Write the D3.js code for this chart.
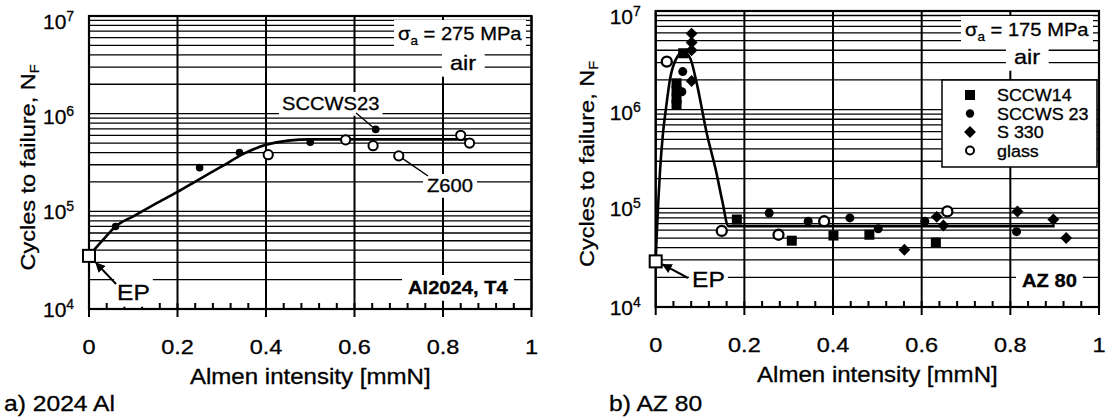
<!DOCTYPE html>
<html>
<head>
<meta charset="utf-8">
<script src="https://cdn.jsdelivr.net/npm/d3@7"></script>
<style>
  body { margin: 0; background: #fff; }
  svg text { font-family: "Liberation Sans", Arial, sans-serif; fill: #000; stroke: #000; stroke-width: 0.3px; }
</style>
</head>
<body>
<svg id="chart" width="1111" height="420"></svg>
<script>
// ---- data ----
const xTicks = [0, 0.2, 0.4, 0.6, 0.8, 1];
const xTickLabels = ["0", "0.2", "0.4", "0.6", "0.8", "1"];
const yTicks = [1e4, 1e5, 1e6, 1e7];
const yTickExp = ["4", "5", "6", "7"];

// a) 2024 Al
const aCurveX = [0, 0.03, 0.06, 0.1, 0.15, 0.2, 0.25, 0.3, 0.35, 0.4, 0.45, 0.5, 0.86];
const aCurveY = [3.5e4, 5.0e4, 7.0e4, 8.9e4, 1.19e5, 1.58e5, 2.14e5, 2.88e5, 3.9e5, 4.8e5, 5.3e5, 5.45e5, 5.45e5];
const aFilledX = [0.06, 0.25, 0.34, 0.50, 0.648];
const aFilledY = [7e4, 2.8e5, 4.0e5, 5.1e5, 6.9e5];
const aOpenX = [0.405, 0.58, 0.642, 0.70, 0.84, 0.86];
const aOpenY = [3.8e5, 5.4e5, 4.7e5, 3.7e5, 6.0e5, 5.0e5];
const aEP = [0, 3.5e4];

// b) AZ 80
const bCurveX = [0, 0.002, 0.006, 0.01, 0.016, 0.024, 0.032, 0.045, 0.062, 0.078, 0.092, 0.115, 0.136, 0.15, 0.164, 0.9];
const bCurveY = [2.9e4, 5e4, 1.2e5, 2.5e5, 5.5e5, 1.1e6, 2.0e6, 3.2e6, 3.85e6, 3.3e6, 1.9e6, 5.8e5, 2.4e5, 1.2e5, 6.6e4, 6.6e4];
const bSquareX = [0.047, 0.047, 0.047, 0.047, 0.062, 0.183, 0.307, 0.401, 0.482, 0.632];
const bSquareY = [1.85e6, 1.55e6, 1.3e6, 1.12e6, 3.73e6, 7.7e4, 4.7e4, 5.3e4, 5.4e4, 4.5e4];
const bCircleX = [0.061, 0.059, 0.256, 0.344, 0.438, 0.502, 0.607, 0.814];
const bCircleY = [2.43e6, 1.52e6, 8.96e4, 7.4e4, 8.0e4, 6.2e4, 7.4e4, 5.8e4];
const bDiamondX = [0.081, 0.081, 0.081, 0.081, 0.561, 0.634, 0.649, 0.816, 0.897, 0.926];
const bDiamondY = [5.9e6, 4.8e6, 4.0e6, 1.95e6, 3.8e4, 8.2e4, 6.7e4, 9.3e4, 7.7e4, 5.0e4];
const bGlassX = [0.025, 0.149, 0.277, 0.380, 0.658];
const bGlassY = [3.07e6, 5.9e4, 5.4e4, 7.4e4, 9.3e4];
const bEP = [0, 2.9e4];

const legendNames = ["SCCW14", "SCCWS 23", "S 330", "glass"];

// the scanned original has wide lettering
const SX = 1.12;
const yLabelDrop = [8, 8, 10, 13];

const svg = d3.select("#chart");
const zip = (xs, ys) => xs.map((v, i) => [v, ys[i]]);

// text (stretched) with optional white box behind it, for labels on the grid
function label(g, x, y, build, pad) {
  const h = g.append("g").attr("transform", `translate(${x},${y}) scale(${SX},1)`);
  const t = build(h.append("text"));
  if (pad) {
    const b = t.node().getBBox();
    h.insert("rect", "text")
      .attr("x", b.x - pad[0] / SX).attr("y", b.y - pad[1])
      .attr("width", b.width + 2 * pad[0] / SX).attr("height", b.height + pad[1] * 2)
      .attr("fill", "#fff");
  }
  return t;
}

function sigma(t, val) {
  t.attr("font-size", 18);
  t.append("tspan").text("σ");
  t.append("tspan").text("a").attr("font-size", 12).attr("dy", 5);
  t.append("tspan").text(" = " + val + " MPa").attr("dy", -5);
  return t;
}

function drawPanel(p) {
  const g = svg.append("g");
  const x = d3.scaleLinear().domain([0, 1]).range([p.left, p.right]);
  const y = d3.scaleLog().domain([1e4, 1e7]).range([p.bottom, p.top]);

  // log grid lines
  const grid = [];
  for (let e = 4; e < 7; e++) for (let k = 1; k <= 9; k++) {
    const v = k * Math.pow(10, e);
    if (v > 1e4) grid.push(v);
  }
  g.append("g").selectAll("line").data(grid).join("line")
    .attr("x1", p.left).attr("x2", p.right)
    .attr("y1", d => y(d)).attr("y2", d => y(d))
    .attr("stroke", "#000").attr("stroke-width", 1.3);

  // vertical grid + major ticks
  g.append("g").selectAll("line").data(xTicks).join("line")
    .attr("x1", d => x(d)).attr("x2", d => x(d))
    .attr("y1", p.top).attr("y2", p.bottom + 8)
    .attr("stroke", "#000").attr("stroke-width", 2);

  // minor ticks
  g.append("g").selectAll("line").data(d3.range(0.04, 1, 0.04)).join("line")
    .attr("x1", d => x(d)).attr("x2", d => x(d))
    .attr("y1", p.bottom).attr("y2", p.bottom - 6)
    .attr("stroke", "#000").attr("stroke-width", 2);

  // labels that blank out the grid
  p.labels(g.append("g"), x, y);

  // frame
  g.append("rect")
    .attr("x", p.left).attr("y", p.top)
    .attr("width", p.right - p.left).attr("height", p.bottom - p.top)
    .attr("fill", "none").attr("stroke", "#000").attr("stroke-width", 2.2);

  // tick labels
  g.append("g").selectAll("text").data(xTicks).join("text")
    .attr("transform", d => `translate(${x(d)},${p.bottom + 45}) scale(${SX},1)`)
    .attr("text-anchor", "middle").attr("font-size", 21)
    .text((d, i) => xTickLabels[i]);

  const yl = g.append("g").selectAll("text").data(yTicks).join("text")
    .attr("x", p.left - 46).attr("y", (d, i) => y(d) + yLabelDrop[i])
    .attr("font-size", 21);
  yl.append("tspan").text("10");
  yl.append("tspan").text((d, i) => yTickExp[i]).attr("font-size", 14).attr("dy", -8);

  // axis titles
  label(g, (p.left + p.right) / 2, p.bottom + 75,
    t => t.attr("text-anchor", "middle").attr("font-size", 21.5).text("Almen intensity [mmN]"));

  const yt = g.append("text")
    .attr("transform", `translate(${p.left - p.yTitleOff},${(p.top + p.bottom) / 2 + 5}) rotate(-90) scale(${SX},1)`)
    .attr("text-anchor", "middle").attr("font-size", 21);
  yt.append("tspan").text("Cycles to failure, N");
  yt.append("tspan").text("F").attr("font-size", 13).attr("dy", 4);

  label(g, p.captionX, 411, t => t.attr("font-size", 22).text(p.caption));

  return { g, x, y };
}

const line = (x, y) => d3.line().x(d => x(d[0])).y(d => y(d[1])).curve(d3.curveMonotoneX);

svg.append("defs").append("marker")
  .attr("id", "arr").attr("viewBox", "0 0 10 10").attr("refX", 9).attr("refY", 5)
  .attr("markerWidth", 5).attr("markerHeight", 5).attr("orient", "auto")
  .append("path").attr("d", "M0,0L10,5L0,10z").attr("fill", "#000");

// ---------- panel a ----------
const A = drawPanel({
  left: 89, right: 531.5, top: 16, bottom: 309, yTitleOff: 54, captionX: 4, caption: "a) 2024 Al",
  labels(g) {
    label(g, 398, 40, t => sigma(t, "275"), [4, 4]);
    label(g, 463, 70, t => t.attr("text-anchor", "middle").attr("font-size", 21).text("air"), [8, 2]);
    label(g, 282, 110, t => t.attr("font-size", 18).text("SCCWS23"), [3, 2]);
    label(g, 427, 192, t => t.attr("font-size", 18).text("Z600"), [4, 2]);
    label(g, 408, 294, t => t.attr("font-size", 18).attr("font-weight", "bold").text("Al2024, T4"), [6, 3]);
    label(g, 117, 300, t => t.attr("font-size", 22).text("EP"), [3, 2]);
  }
});

A.g.append("path").datum(zip(aCurveX, aCurveY))
  .attr("d", line(A.x, A.y)).attr("fill", "none")
  .attr("stroke", "#000").attr("stroke-width", 2.6);

// leader lines
A.g.append("line")
  .attr("x1", 356).attr("y1", 113)
  .attr("x2", A.x(aFilledX[4])).attr("y2", A.y(aFilledY[4]))
  .attr("stroke", "#000").attr("stroke-width", 1.3);
A.g.append("line")
  .attr("x1", A.x(aOpenX[3])).attr("y1", A.y(aOpenY[3]))
  .attr("x2", 428).attr("y2", 176)
  .attr("stroke", "#000").attr("stroke-width", 1.5);

A.g.append("g").selectAll("circle").data(zip(aFilledX, aFilledY)).join("circle")
  .attr("cx", d => A.x(d[0])).attr("cy", d => A.y(d[1])).attr("r", 3.8).attr("fill", "#000");
A.g.append("g").selectAll("circle").data(zip(aOpenX, aOpenY)).join("circle")
  .attr("cx", d => A.x(d[0])).attr("cy", d => A.y(d[1])).attr("r", 4.6)
  .attr("fill", "#fff").attr("stroke", "#000").attr("stroke-width", 2);

A.g.append("line")
  .attr("x1", 116).attr("y1", 284)
  .attr("x2", A.x(aEP[0]) + 7).attr("y2", A.y(aEP[1]) + 7)
  .attr("stroke", "#000").attr("stroke-width", 2).attr("marker-end", "url(#arr)");
A.g.append("rect")
  .attr("x", A.x(aEP[0]) - 6).attr("y", A.y(aEP[1]) - 6).attr("width", 12).attr("height", 12)
  .attr("fill", "#fff").attr("stroke", "#000").attr("stroke-width", 2);

// ---------- panel b ----------
const B = drawPanel({
  left: 655.7, right: 1099, top: 11, bottom: 307, yTitleOff: 62, captionX: 609, caption: "b) AZ 80",
  labels(g) {
    label(g, 965, 36, t => sigma(t, "175"), [4, 4]);
    label(g, 1027, 64, t => t.attr("text-anchor", "middle").attr("font-size", 21).text("air"), [8, 2]);
    label(g, 1022, 287, t => t.attr("font-size", 18).attr("font-weight", "bold").text("AZ 80"), [6, 3]);
    label(g, 692, 287, t => t.attr("font-size", 22).text("EP"), [3, 2]);
  }
});

B.g.append("path").datum(zip(bCurveX, bCurveY))
  .attr("d", line(B.x, B.y)).attr("fill", "none")
  .attr("stroke", "#000").attr("stroke-width", 2.6);

B.g.append("g").selectAll("rect").data(zip(bSquareX, bSquareY)).join("rect")
  .attr("x", d => B.x(d[0]) - 5).attr("y", d => B.y(d[1]) - 5)
  .attr("width", 10).attr("height", 10).attr("fill", "#000");
B.g.append("g").selectAll("circle").data(zip(bCircleX, bCircleY)).join("circle")
  .attr("cx", d => B.x(d[0])).attr("cy", d => B.y(d[1])).attr("r", 4.5).attr("fill", "#000");
const diamond = d3.symbol().type(d3.symbolDiamond2).size(90);
B.g.append("g").selectAll("path").data(zip(bDiamondX, bDiamondY)).join("path")
  .attr("transform", d => `translate(${B.x(d[0])},${B.y(d[1])})`)
  .attr("d", diamond).attr("fill", "#000");
B.g.append("g").selectAll("circle").data(zip(bGlassX, bGlassY)).join("circle")
  .attr("cx", d => B.x(d[0])).attr("cy", d => B.y(d[1])).attr("r", 5)
  .attr("fill", "#fff").attr("stroke", "#000").attr("stroke-width", 2.3);

B.g.append("line")
  .attr("x1", 688).attr("y1", 278)
  .attr("x2", B.x(bEP[0]) + 7).attr("y2", B.y(bEP[1]) + 3)
  .attr("stroke", "#000").attr("stroke-width", 2).attr("marker-end", "url(#arr)");
B.g.append("rect")
  .attr("x", B.x(bEP[0]) - 6).attr("y", B.y(bEP[1]) - 6).attr("width", 12).attr("height", 12)
  .attr("fill", "#fff").attr("stroke", "#000").attr("stroke-width", 2);

// legend
const leg = B.g.append("g").attr("transform", "translate(942,80)");
leg.append("rect").attr("width", 155).attr("height", 87)
  .attr("fill", "#fff").attr("stroke", "#000").attr("stroke-width", 1.5);
const rows = leg.selectAll("g").data(legendNames).join("g")
  .attr("transform", (d, i) => `translate(0,${15 + i * 18.5})`);
rows.each(function (d, i) {
  const r = d3.select(this);
  if (i === 0) r.append("rect").attr("x", 23).attr("y", -5).attr("width", 10).attr("height", 10).attr("fill", "#000");
  if (i === 1) r.append("circle").attr("cx", 28).attr("r", 4.2).attr("fill", "#000");
  if (i === 2) r.append("path").attr("transform", "translate(28,0)").attr("d", diamond).attr("fill", "#000");
  if (i === 3) r.append("circle").attr("cx", 28).attr("r", 4).attr("fill", "#fff").attr("stroke", "#000").attr("stroke-width", 2);
});
rows.append("text")
  .attr("transform", `translate(55,6) scale(${SX},1)`)
  .attr("font-size", 16).text(d => d);
</script>
</body>
</html>
